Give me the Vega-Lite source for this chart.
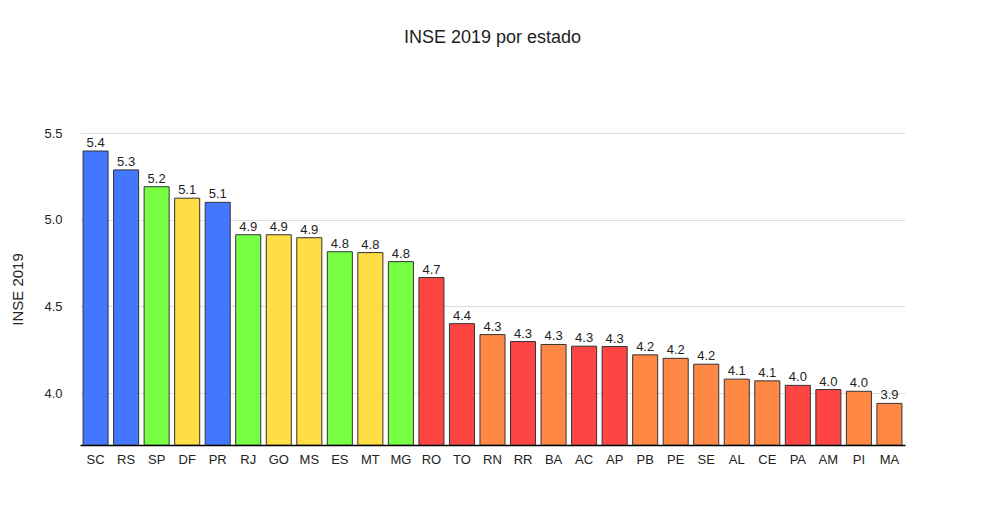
{
  "$schema": "https://vega.github.io/schema/vega-lite/v6.json",
  "autosize": "none",
  "width": 825,
  "height": 312,
  "padding": {"left": 80, "top": 133, "right": 78, "bottom": 80},
  "background": "white",
  "title": {"text": "INSE 2019 por estado", "fontSize": 18, "font": "Arial", "fontWeight": "normal", "offset": 80, "color": "#222"},
  "config": {"view": {"stroke": null}, "font": "Arial"},
  "data": {"values": [
    {"uf": "SC", "inse": 5.396, "g": "blue"},
    {"uf": "RS", "inse": 5.287, "g": "blue"},
    {"uf": "SP", "inse": 5.19, "g": "green"},
    {"uf": "DF", "inse": 5.124, "g": "yellow"},
    {"uf": "PR", "inse": 5.10, "g": "blue"},
    {"uf": "RJ", "inse": 4.913, "g": "green"},
    {"uf": "GO", "inse": 4.913, "g": "yellow"},
    {"uf": "MS", "inse": 4.896, "g": "yellow"},
    {"uf": "ES", "inse": 4.815, "g": "green"},
    {"uf": "MT", "inse": 4.81, "g": "yellow"},
    {"uf": "MG", "inse": 4.758, "g": "green"},
    {"uf": "RO", "inse": 4.666, "g": "red"},
    {"uf": "TO", "inse": 4.40, "g": "red"},
    {"uf": "RN", "inse": 4.337, "g": "orange"},
    {"uf": "RR", "inse": 4.297, "g": "red"},
    {"uf": "BA", "inse": 4.28, "g": "orange"},
    {"uf": "AC", "inse": 4.27, "g": "red"},
    {"uf": "AP", "inse": 4.268, "g": "red"},
    {"uf": "PB", "inse": 4.22, "g": "orange"},
    {"uf": "PE", "inse": 4.20, "g": "orange"},
    {"uf": "SE", "inse": 4.166, "g": "orange"},
    {"uf": "AL", "inse": 4.08, "g": "orange"},
    {"uf": "CE", "inse": 4.07, "g": "orange"},
    {"uf": "PA", "inse": 4.044, "g": "red"},
    {"uf": "AM", "inse": 4.02, "g": "red"},
    {"uf": "PI", "inse": 4.01, "g": "orange"},
    {"uf": "MA", "inse": 3.94, "g": "orange"}
  ]},
  "encoding": {
    "x": {"field": "uf", "type": "nominal", "sort": null, "title": null,
      "scale": {"paddingInner": 0.18, "paddingOuter": 0.1},
      "axis": {"labelAngle": 0, "ticks": false, "domainColor": "#000", "domainWidth": 1.5, "labelFontSize": 13, "labelColor": "#222", "labelPadding": 8}},
    "y": {"field": "inse", "type": "quantitative", "title": "INSE 2019",
      "scale": {"domain": [3.7, 5.5], "zero": false, "nice": false},
      "axis": {"values": [4, 4.5, 5, 5.5], "domain": false, "ticks": false, "gridColor": "#ddd", "labelFontSize": 13, "labelColor": "#222", "titleFontSize": 15, "titleFontWeight": "normal", "titleColor": "#222", "labelPadding": 18, "titlePadding": 18}}
  },
  "layer": [
    {
      "mark": {"type": "bar", "stroke": "#333", "strokeWidth": 1, "clip": true},
      "encoding": {
        "y2": {"datum": 3.7},
        "color": {"field": "g", "type": "nominal", "legend": null,
          "scale": {"domain": ["blue", "green", "yellow", "red", "orange"],
            "range": ["#4477ff", "#77ff44", "#ffdd44", "#ff4444", "#ff8844"]}}
      }
    },
    {
      "mark": {"type": "text", "dy": -8, "fontSize": 13, "color": "#222"},
      "encoding": {"text": {"field": "inse", "type": "quantitative", "format": ".1f"}}
    }
  ]
}
